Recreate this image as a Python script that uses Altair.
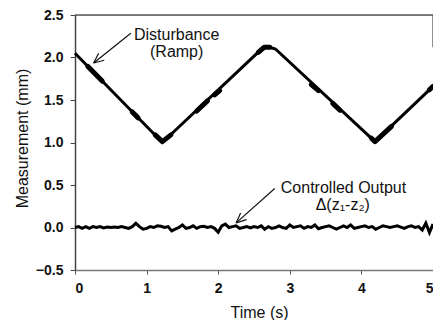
import math
import altair as alt
import pandas as pd

# ---- data ----
# Disturbance (ramp) vertices
dist_t = [0.0, 1.22, 2.62, 2.68, 2.80, 4.19, 5.0]
dist_v = [2.05, 1.00, 2.11, 2.13, 2.10, 1.01, 1.66]

# noisy thick "blob" stretches on the disturbance trace
blob_id = [0, 0, 1, 1, 2, 2, 2, 3, 3, 4, 4, 5, 5, 5, 6, 6, 7, 7, 8, 8, 8, 9, 9]
blob_t = [0.18, 0.38, 0.80, 0.88, 1.12, 1.22, 1.34, 1.70, 1.85, 1.95, 2.02,
          2.56, 2.64, 2.72, 3.30, 3.40, 3.60, 3.70, 4.14, 4.19, 4.42, 4.95, 5.00]
blob_v = [1.895, 1.723, 1.36, 1.29, 1.09, 1.01, 1.09, 1.37, 1.49, 1.56, 1.61,
          2.06, 2.12, 2.12, 1.68, 1.61, 1.46, 1.38, 1.05, 1.01, 1.19, 1.62, 1.66]

# Controlled output, sampled every 0.05 s
ctrl_t = [round(i * 0.05, 2) for i in range(101)]
ctrl_v = [0.00, 0.01, -0.01, 0.01, -0.01, 0.01, 0.00, 0.01, -0.005, 0.005,
          0.00, 0.005, 0.00, 0.01, 0.00, -0.01, 0.01, 0.05, 0.01, -0.02,
          -0.01, 0.01, 0.00, 0.02, 0.015, 0.00, 0.01, -0.04, -0.02, 0.00,
          0.03, -0.01, 0.00, 0.02, -0.01, 0.01, 0.015, 0.00, 0.01, -0.01,
          -0.055, 0.02, 0.04, 0.00, 0.01, 0.02, -0.01, 0.00, 0.01, -0.005,
          0.01, 0.00, 0.02, -0.02, 0.01, -0.01, 0.00, 0.02, 0.00, -0.01,
          0.03, 0.00, 0.01, 0.02, -0.01, 0.01, 0.00, 0.03, -0.015, 0.00,
          0.01, 0.02, 0.00, -0.02, 0.00, 0.02, 0.00, 0.03, -0.01, 0.00,
          0.01, 0.02, 0.00, 0.01, -0.02, 0.00, 0.02, 0.01, 0.00, 0.01,
          0.02, 0.005, -0.01, 0.01, 0.02, 0.00, 0.01, -0.03, 0.05, -0.06,
          0.04]

# Annotations
label_text = ["Disturbance", "(Ramp)", "Controlled Output", "Δ(z₁-z₂)"]
label_t = [1.42, 1.42, 3.75, 3.74]
label_v = [2.27, 2.065, 0.47, 0.262]

arrow_t0 = [0.78, 2.79]
arrow_v0 = [2.285, 0.458]
arrow_t1 = [0.26, 2.25]
arrow_v1 = [1.935, 0.054]

# partial frame (top edge and upper part of right edge)
frame_t0 = [0.0, 5.0]
frame_t1 = [5.0, 5.0]
frame_v0 = [2.5, 2.5]
frame_v1 = [2.5, 2.12]

x_ticks = [0, 1, 2, 3, 4, 5]
y_ticks = [-0.5, 0.0, 0.5, 1.0, 1.5, 2.0, 2.5]

W, H = 358, 255
PX_PER_T = W / 5.0
PX_PER_V = H / 3.0

# ---- tables ----
dist_df = pd.DataFrame({"t": dist_t, "v": dist_v})
blob_df = pd.DataFrame({"id": blob_id, "t": blob_t, "v": blob_v})
ctrl_df = pd.DataFrame({"t": ctrl_t, "v": ctrl_v})
text_df = pd.DataFrame({"t": label_t, "v": label_v, "text": label_text})
frame_df = pd.DataFrame({"t": frame_t0, "v": frame_v0, "t2": frame_t1, "v2": frame_v1})

seg_rows = []
for i in range(len(arrow_t0)):
    seg_rows.append({"t": arrow_t0[i], "v": arrow_v0[i], "t2": arrow_t1[i], "v2": arrow_v1[i]})
    dx = (arrow_t1[i] - arrow_t0[i]) * PX_PER_T
    dy = (arrow_v1[i] - arrow_v0[i]) * PX_PER_V
    ang = math.atan2(dy, dx)
    for da in (0.42, -0.42):
        a = ang + math.pi + da
        bx = arrow_t1[i] + 11 * math.cos(a) / PX_PER_T
        by = arrow_v1[i] + 11 * math.sin(a) / PX_PER_V
        seg_rows.append({"t": arrow_t1[i], "v": arrow_v1[i], "t2": bx, "v2": by})
seg_df = pd.DataFrame(seg_rows)

FONT = "Liberation Sans"

xscale = alt.Scale(domain=[0, 5], nice=False, zero=False)
yscale = alt.Scale(domain=[-0.5, 2.5], nice=False, zero=False)

xaxis = alt.Axis(values=x_ticks, format="d", title="Time (s)", grid=False,
                 domainColor="#777777", domainWidth=1.5, tickColor="#555555",
                 tickSize=4, labelPadding=7, labelFont=FONT, labelFontSize=14,
                 labelFontWeight="bold", labelColor="#111111",
                 titleFont=FONT, titleFontSize=16, titleFontWeight="normal",
                 titleColor="#111111", titleX=184, titleY=42, titleBaseline="middle")
yaxis = alt.Axis(values=y_ticks, format=".1f", title="Measurement (mm)", grid=False,
                 domainColor="#444444", domainWidth=1.5, tickColor="#444444",
                 tickSize=5, labelPadding=7, labelFont=FONT, labelFontSize=14,
                 labelFontWeight="bold", labelColor="#111111",
                 titleFont=FONT, titleFontSize=16, titleFontWeight="normal",
                 titleColor="#111111", titleX=-53, titleY=123, titleBaseline="middle")

base_x = alt.X("t:Q", scale=xscale, axis=xaxis)
base_y = alt.Y("v:Q", scale=yscale, axis=yaxis)
px = alt.X("t:Q", scale=xscale)
py = alt.Y("v:Q", scale=yscale)

frame = alt.Chart(frame_df).mark_rule(color="#555555", strokeWidth=1.3).encode(
    x=base_x, y=base_y, x2="t2:Q", y2="v2:Q")
dist_line = alt.Chart(dist_df).mark_line(color="black", strokeWidth=3).encode(x=px, y=py)
blobs = alt.Chart(blob_df).mark_line(color="black", strokeWidth=5, strokeCap="round",
                                     strokeJoin="round").encode(x=px, y=py, detail="id:N")
ctrl_line = alt.Chart(ctrl_df).mark_line(color="black", strokeWidth=3).encode(x=px, y=py)
texts = alt.Chart(text_df).mark_text(font=FONT, fontSize=16, color="#111111").encode(
    x=px, y=py, text="text:N")
arrows = alt.Chart(seg_df).mark_rule(color="#111111", strokeWidth=1.2).encode(
    x=px, y=py, x2="t2:Q", y2="v2:Q")

chart = alt.layer(frame, dist_line, blobs, ctrl_line, arrows, texts).properties(
    width=W, height=H,
    autosize=alt.AutoSizeParams(type="none"),
    padding={"left": 67, "top": 7, "right": 0, "bottom": 50},
).configure_view(stroke=None).configure(background="white")

chart.save("out.html", embed_options={"renderer": "svg", "actions": False})
